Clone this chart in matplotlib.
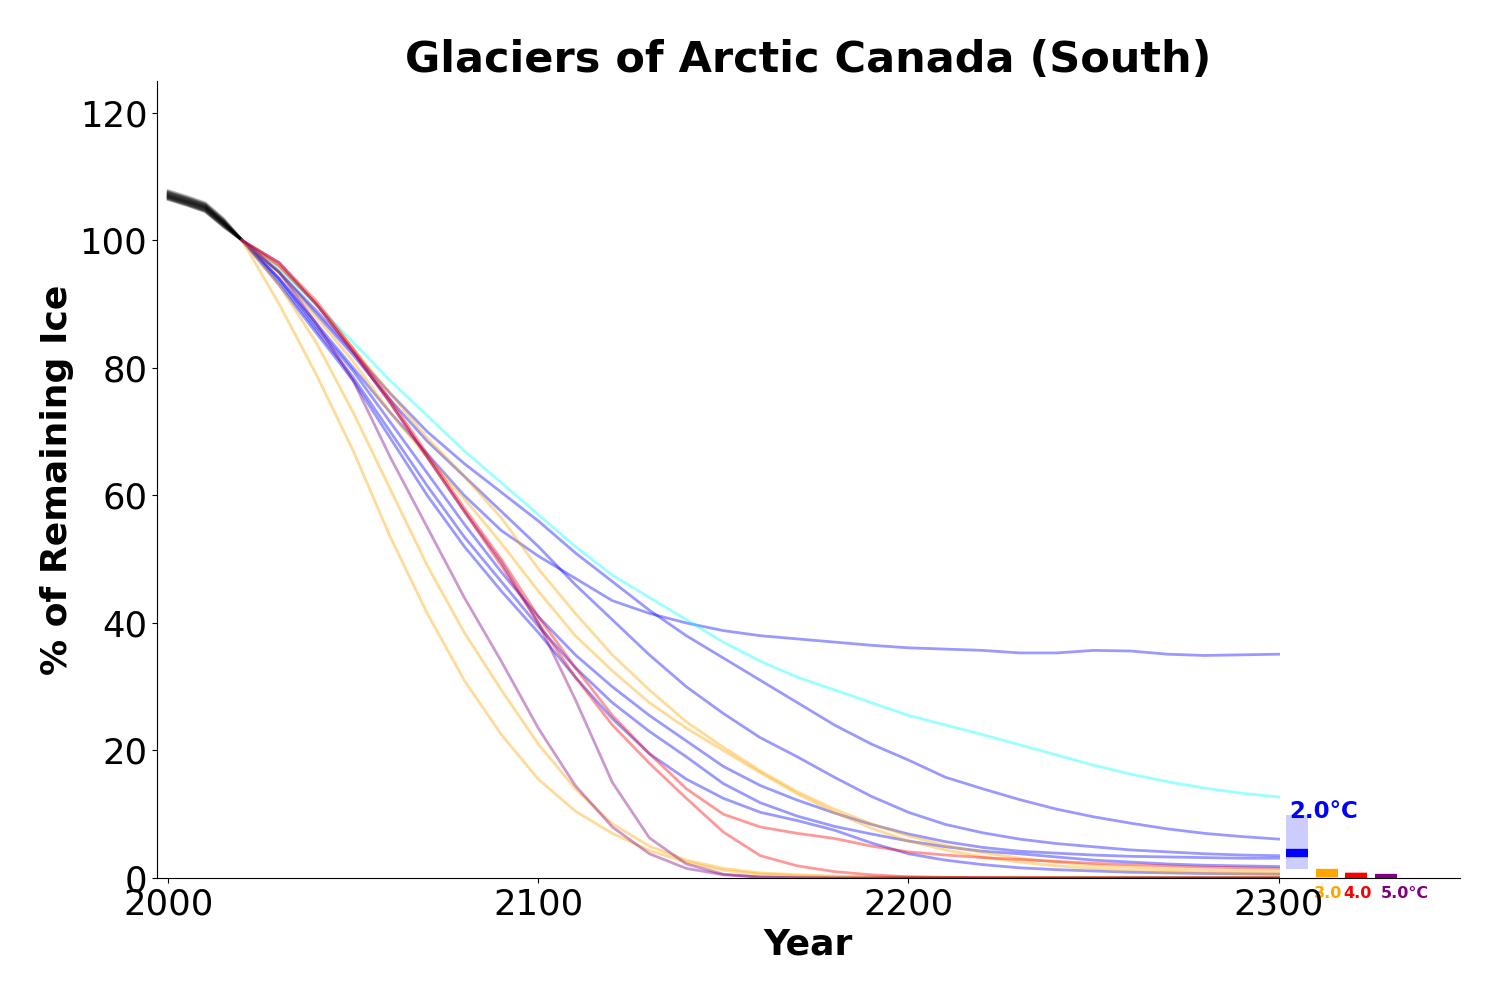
import matplotlib
matplotlib.use("Agg")
import matplotlib.pyplot as plt

# historical part (black), one row per model run
hist_years = [2000, 2005, 2010, 2015, 2020]
hist_runs = [
    [107.8, 106.9, 105.9, 103.4, 100],
    [107.6, 106.7, 105.7, 103.2, 100],
    [107.5, 106.6, 105.6, 103.1, 100],
    [107.4, 106.5, 105.5, 103.0, 100],
    [107.3, 106.4, 105.4, 102.9, 100],
    [107.2, 106.3, 105.3, 102.8, 100],
    [107.1, 106.2, 105.2, 102.8, 100],
    [107.0, 106.1, 105.1, 102.7, 100],
    [106.9, 106.0, 105.0, 102.6, 100],
    [106.8, 105.9, 104.9, 102.5, 100],
    [106.7, 105.8, 104.8, 102.4, 100],
    [106.6, 105.7, 104.7, 102.3, 100],
    [106.5, 105.6, 104.6, 102.2, 100],
    [106.4, 105.5, 104.5, 102.1, 100],
    [106.9, 106.1, 105.2, 102.7, 100],
]

# future projections, 2020-2300 every 10 years
years = [2020, 2030, 2040, 2050, 2060, 2070, 2080, 2090, 2100, 2110,
         2120, 2130, 2140, 2150, 2160, 2170, 2180, 2190, 2200, 2210,
         2220, 2230, 2240, 2250, 2260, 2270, 2280, 2290, 2300]

blue_1 = [100, 94, 87, 80, 73, 66.5, 60, 54.5, 50.5, 47, 43.5, 41.5, 40, 38.8, 38,
          37.5, 37, 36.5, 36.1, 35.9, 35.7, 35.3, 35.3, 35.7, 35.6, 35.1, 34.9, 35.0, 35.1]
blue_2 = [100, 95, 89, 82.5, 76, 70, 65, 60.5, 56, 51, 46.5, 42, 38, 34.5, 31,
          27.5, 24, 21, 18.5, 15.8, 14, 12.3, 10.8, 9.6, 8.6, 7.7, 7.0, 6.5, 6.1]
blue_3 = [100, 95, 88.5, 82, 75, 68.5, 63, 57.5, 52, 46, 40.5, 35, 30, 25.8, 22,
          19, 15.8, 12.8, 10.3, 8.4, 7.1, 6.1, 5.4, 4.9, 4.4, 4.1, 3.8, 3.6, 3.5]
blue_4 = [100, 94, 86.5, 79.5, 71.5, 63.5, 55.5, 48, 41, 35, 30, 25.5, 21.5, 17.5, 14.5,
          12.2, 10.2, 8.4, 6.9, 5.7, 4.8, 4.2, 3.9, 3.6, 3.4, 3.3, 3.2, 3.1, 3.1]
blue_5 = [100, 93.5, 86, 78.5, 70, 61.5, 53.5, 46.5, 39.5, 33, 27.5, 23, 19, 14.8, 11.8,
          9.7, 8.1, 6.9, 5.8, 4.9, 4.2, 3.8, 3.3, 2.8, 2.5, 2.2, 2.0, 1.9, 1.8]
blue_6 = [100, 93, 85.5, 78, 69, 60, 52, 45, 38.5, 31.5, 25, 19.5, 15.5, 12.5, 10.3,
          9.0, 7.5, 5.5, 3.8, 2.8, 2.1, 1.6, 1.3, 1.1, 0.9, 0.8, 0.7, 0.65, 0.6]
cyan_1 = [100, 95.5, 90, 84, 78, 72.5, 67, 62, 57, 52, 47.5, 44, 40.5, 37, 34,
          31.5, 29.5, 27.5, 25.5, 24, 22.5, 20.9, 19.3, 17.7, 16.3, 15.1, 14.1, 13.3, 12.7]
orange_1 = [100, 90, 79, 67, 53.5, 41.5, 31, 22.5, 15.5, 10.5, 7, 4.3, 2.5, 1.2, 0.6,
            0.35, 0.2, 0.15, 0.1, 0.1, 0.1, 0.1, 0.1, 0.1, 0.1, 0.1, 0.1, 0.1, 0.1]
orange_2 = [100, 93, 84, 73, 61, 49, 38.5, 29.5, 21, 14, 8.5, 5, 2.8, 1.5, 0.8,
            0.5, 0.3, 0.2, 0.15, 0.1, 0.1, 0.1, 0.1, 0.1, 0.1, 0.1, 0.1, 0.1, 0.1]
orange_3 = [100, 96, 90, 83, 76, 69, 63, 56.5, 48.5, 41.5, 35, 29.5, 24.5, 20.5, 16.8,
            13.5, 10.8, 8.5, 6.6, 5.1, 4.0, 3.1, 2.5, 2.0, 1.7, 1.4, 1.2, 1.1, 1.0]
orange_4 = [100, 95, 88, 81, 73, 66, 59.5, 52.5, 45, 38, 32.5, 27.5, 23.5, 20, 16.5,
            13.2, 10.3, 7.8, 5.8, 4.4, 3.3, 2.5, 1.9, 1.5, 1.2, 1.0, 0.8, 0.7, 0.6]
red_1 = [100, 96.5, 90.5, 83, 75, 66.5, 58, 50, 41, 33, 25.5, 19.5, 14, 10, 8,
         7.0, 6.2, 5.0, 4.1, 3.6, 3.2, 2.9, 2.6, 2.3, 2.1, 1.9, 1.7, 1.6, 1.5]
red_2 = [100, 96, 90, 82.5, 74.5, 66, 57.5, 49, 40, 31.5, 24, 18, 12.5, 7.2, 3.5,
         1.9, 1.0, 0.5, 0.2, 0.1, 0.05, 0, 0, 0, 0, 0, 0, 0, 0]
purple_1 = [100, 95, 87, 78, 66, 55, 44, 34, 23.5, 14.5, 8, 3.8, 1.5, 0.5, 0.15,
            0.05, 0, 0, 0, 0, 0, 0, 0, 0, 0, 0, 0, 0, 0]
purple_2 = [100, 96.5, 90, 82.5, 74.5, 66, 57.5, 49.5, 40, 28, 15, 6.3, 2.2, 0.6, 0.15,
            0.05, 0, 0, 0, 0, 0, 0, 0, 0, 0, 0, 0, 0, 0]

# end-of-period summary per warming level
scen_labels = ['2.0°C', '3.0°C', '4.0°C', '5.0°C']
end_low = [1.4, 0.05, 0.0, 0.0]
end_high = [9.9, 1.0, 0.9, 0.3]
end_median = [3.85, 0.72, 0.15, 0.0]

futures = [
    (blue_1, 'blue'), (blue_2, 'blue'), (blue_3, 'blue'), (blue_4, 'blue'),
    (blue_5, 'blue'), (blue_6, 'blue'), (cyan_1, 'cyan'),
    (orange_1, 'orange'), (orange_2, 'orange'), (orange_3, 'orange'), (orange_4, 'orange'),
    (red_1, 'red'), (red_2, 'red'), (purple_1, 'purple'), (purple_2, 'purple'),
]
scen_colors = ['blue', 'orange', 'red', 'purple']
label_shift = [-2.2, -3.5, -3.5, -1.4]
label_pad = [0, 1, 1, 7]

fig = plt.figure(figsize=(15, 10), dpi=100)
ax = fig.add_axes([0.1047, 0.122, 0.8686, 0.797])

for run in hist_runs:
    ax.plot(hist_years, run, color='black', alpha=0.3, linewidth=2)

for vals, c in futures:
    ax.plot(years, vals, color=c, alpha=0.4, linewidth=2)

for i, lab in enumerate(scen_labels):
    x0 = 2305 + 8 * i
    c = scen_colors[i]
    ax.bar(x0, end_high[i] - end_low[i], bottom=end_low[i], width=6,
           color=c, alpha=0.2, linewidth=0)
    ax.hlines(end_median[i], x0 - 3, x0 + 3, color=c, linewidth=6)
    if i == 0:
        ax.text(x0 + label_shift[i], end_high[i] - 0.5, lab, color=c, fontsize=16.5,
                fontweight='bold', ha='left', va='baseline')
    else:
        ax.text(x0 + label_shift[i], -1.3, lab, color=c, fontsize=11.5, fontweight='bold',
                ha='left', va='top', clip_on=False, zorder=1,
                bbox=dict(facecolor='white', edgecolor='none', pad=label_pad[i]))

ax.set_xlim(1997, 2349)
ax.set_ylim(0, 125)
ax.set_xticks([2000, 2100, 2200, 2300])
ax.set_yticks([0, 20, 40, 60, 80, 100, 120])
ax.tick_params(labelsize=25.5)
ax.spines['top'].set_visible(False)
ax.spines['right'].set_visible(False)

ax.set_title('Glaciers of Arctic Canada (South)', fontsize=31, fontweight='bold')
ax.set_xlabel('Year', fontsize=26, fontweight='bold')
ax.set_ylabel('% of Remaining Ice', fontsize=26, fontweight='bold')

fig.savefig('out.png', dpi=100)
